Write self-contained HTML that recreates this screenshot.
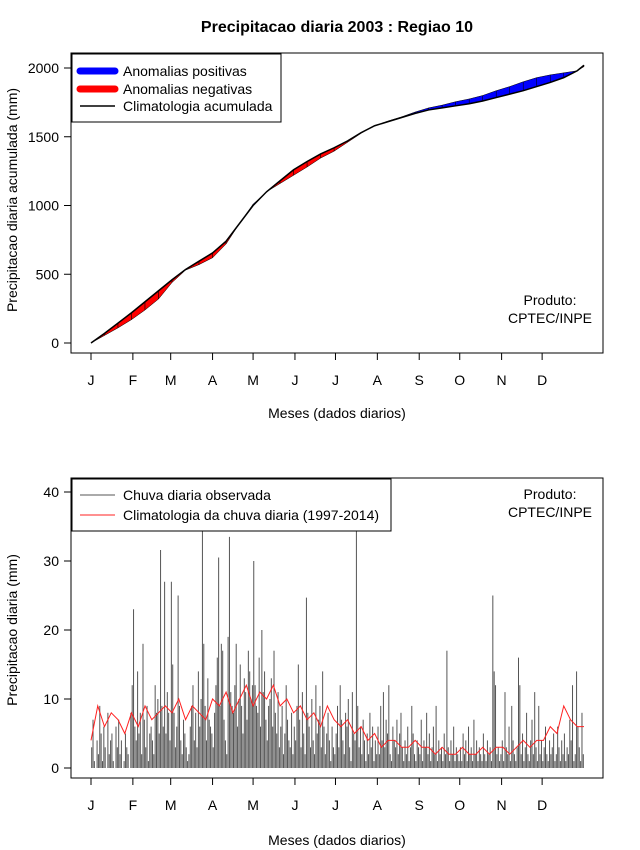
<!DOCTYPE html>
<html><head><meta charset="utf-8"><style>
html,body{margin:0;padding:0;background:#fff}
svg{display:block;font-family:"Liberation Sans",Arial,sans-serif}
</style></head><body>
<svg id="c" width="640" height="850" xmlns="http://www.w3.org/2000/svg">
<text x="337" y="32" text-anchor="middle" font-size="16" font-weight="bold">Precipitacao diaria 2003 : Regiao 10</text>
<g id="topPanel"></g>
<g id="botPanel"></g>
</svg>
<script>
// ---- Data ----
const months = ["J","F","M","A","M","J","J","A","S","O","N","D"];
const monthStartDays = [0,31,59,90,120,151,181,212,243,273,304,334];
const cumDays = [0,10,20,30,40,50,60,70,80,90,100,110,120,130,140,150,160,170,180,190,200,210,220,230,240,250,260,270,280,290,300,310,320,330,340,350,360,365];
const cumClim = [0,70,145,220,300,380,460,535,595,655,740,870,1000,1100,1180,1260,1320,1375,1420,1470,1530,1580,1610,1640,1670,1695,1710,1725,1740,1760,1785,1810,1835,1865,1895,1930,1980,2020];
const cumObs = [0,55,110,170,240,320,440,530,570,620,720,870,1010,1100,1160,1220,1280,1345,1395,1460,1525,1580,1615,1645,1680,1710,1730,1755,1775,1800,1835,1865,1900,1930,1950,1965,1980,2010];
const topTicks = [0,500,1000,1500,2000];
const rain = [
3,7,1,0,4,2,9,5,1,6,3,0,8,2,4,5,1,0,6,3,7,2,4,0,1,5,3,2,0,8,12,
23,6,4,14,5,8,2,18,7,3,9,1,5,6,4,2,12,8,10,5,31.6,9,6,27,5,11,8,4,
27,15,8,3,6,25,9,4,2,7,5,3,1,2,6,9,12,4,8,3,14,6,10,35,18,9,4,13,7,6,5,
3,8,12,16,30.5,9,18,17,7,4,2,19,33.5,11,9,8,12,18,6,10,15,9,5,13,11,7,17,14,10,12,
30,12,9,8,16,6,20,11,14,7,4,9,10,13,6,17,8,5,11,3,6,9,2,5,12,7,4,3,8,2,6,
4,9,15,7,3,11,5,2,24.7,8,6,3,10,4,2,12,5,7,9,3,14,6,2,5,8,4,1,6,3,2,
5,9,3,12,7,4,2,8,6,10,3,1,11,5,4,38,9,3,6,2,7,4,1,5,2,8,3,6,1,4,2,
6,2,9,4,11,3,7,5,12,2,1,6,4,3,7,2,5,8,3,1,4,2,6,1,3,9,5,2,1,4,3,
2,7,1,4,3,8,2,5,1,3,6,2,9,1,4,2,3,1,5,2,17,3,1,4,2,6,1,3,2,1,
3,1,5,2,4,1,6,2,3,1,7,2,4,1,3,2,1,5,2,1,4,2,3,1,25,14,12,2,3,1,2,
4,1,11,3,2,6,1,9,4,2,1,3,16,12,2,5,1,3,8,2,1,4,7,2,11,3,1,9,2,4,
1,3,6,2,1,4,2,3,5,1,2,6,3,1,4,2,5,1,3,2,7,4,12,1,2,14,6,3,1,8,2];
const climDaily = [4,9,6,8,7,5,8,6,9,7,8,9,8,10,7,9,8,7,10,9,11,8,10,12,9,11,10,12,9,10,8,9,7,8,6,9,7,6,7,5,6,4,5,3,4,4,3,3,4,3,3,2,3,2,2,3,2,2,3,2,3,3,2,3,4,3,4,4,6,5,9,7,6,6];
const botTicks = [0,10,20,30,40];

// ---- helpers ----
const NS="http://www.w3.org/2000/svg";
function mk(parent,tag,attrs,text){const e=document.createElementNS(NS,tag);for(const k in attrs)e.setAttribute(k,attrs[k]);if(text!==undefined)e.textContent=text;parent.appendChild(e);return e;}
const xd = d => 91 + d*(584-91)/365;
const yTop = v => 343 - v*(343-68)/2000;
const yBot = v => 768 - v*(768-492)/40;

function axes(g,box,ticks,yf,ytitle,ycenter,xlabY){
  let r=mk(g,'rect',{x:box[0],y:box[1],width:box[2]-box[0],height:box[3]-box[1],fill:'none',stroke:'#000','stroke-width':1});
  
  
  ticks.forEach(t=>{
    const y=yf(t);
    let l=mk(g,'line',{x1:box[0],x2:box[0]-7,y1:y,y2:y,stroke:'#000'});
    
    
    let tx=mk(g,'text',{x:box[0]-12,y:y+5,'text-anchor':'end','font-size':14},String(t));
    
    
  });
  months.forEach((m,i)=>{
    const x=xd(monthStartDays[i]);
    let l=mk(g,'line',{x1:x,x2:x,y1:box[3],y2:box[3]+7,stroke:'#000'});
    
    
    let tx=mk(g,'text',{x:x,y:box[3]+32,'text-anchor':'middle','font-size':14},m);
    
    
  });
  let xt=mk(g,'text',{x:337,y:xlabY,'text-anchor':'middle','font-size':14},'Meses (dados diarios)');
  
  
  let yt=mk(g,'text',{x:0,y:0,'text-anchor':'middle','font-size':14,transform:`translate(17,${ycenter}) rotate(-90)`},ytitle);
  
  
}

// ---- top panel ----
const topG=document.getElementById('topPanel');
for(let i=0;i<cumDays.length-1;i++){
  const a0=cumObs[i]-cumClim[i], a1=cumObs[i+1]-cumClim[i+1];
  const col=(a0+a1)>=0?'#0000ff':'#ff0000';
  const pts=[[xd(cumDays[i]),yTop(cumClim[i])],[xd(cumDays[i+1]),yTop(cumClim[i+1])],[xd(cumDays[i+1]),yTop(cumObs[i+1])],[xd(cumDays[i]),yTop(cumObs[i])]];
  const p=mk(topG,'polygon',{points:pts.map(q=>q.join(',')).join(' '),fill:col,stroke:'#000','stroke-width':0.5});
  
  
}
const cl=mk(topG,'polyline',{points:cumDays.map((d,i)=>xd(d)+','+yTop(cumClim[i])).join(' '),fill:'none',stroke:'#000','stroke-width':1.5});


axes(topG,[71,53,603,353],topTicks,yTop,'Precipitacao diaria acumulada (mm)',200,418);
let lg=mk(topG,'g',{});


mk(lg,'rect',{x:72,y:54,width:209,height:68,fill:'#fff',stroke:'#000'});
[['#0000ff',7,'Anomalias positivas',71],['#ff0000',7,'Anomalias negativas',89],['#000',1.5,'Climatologia acumulada',106]].forEach(e=>{
  let g=mk(lg,'g',{});
  
  
  mk(g,'line',{x1:80,x2:115,y1:e[3],y2:e[3],stroke:e[0],'stroke-width':e[1],'stroke-linecap':e[1]>2?'round':'butt'});
  mk(g,'text',{x:123,y:e[3]+5,'font-size':14},e[2]);
});
let pr=mk(topG,'text',{x:550,y:305,'text-anchor':'middle','font-size':14},'Produto:');


let pr2=mk(topG,'text',{x:550,y:323,'text-anchor':'middle','font-size':14},'CPTEC/INPE');



// ---- bottom panel ----
const botG=document.getElementById('botPanel');
rain.forEach((v,d)=>{
  const x=xd(d+0.5);
  const l=mk(botG,'line',{x1:x,x2:x,y1:yBot(0),y2:yBot(Math.min(v,41.2)),stroke:'#555','stroke-width':1});
  
  
});
const step=365/(climDaily.length-1);
const rl=mk(botG,'polyline',{points:climDaily.map((v,i)=>xd(i*step)+','+yBot(v)).join(' '),fill:'none',stroke:'#ff2020','stroke-width':1});


axes(botG,[71,478,603,778],botTicks,yBot,'Precipitacao diaria (mm)',630,845);
let lg2=mk(botG,'g',{});


mk(lg2,'rect',{x:72,y:479,width:319,height:52,fill:'#fff',stroke:'#000'});
[['#555','Chuva diaria observada',495],['#ff2020','Climatologia da chuva diaria (1997-2014)',515]].forEach(e=>{
  let g=mk(lg2,'g',{});
  
  
  mk(g,'line',{x1:80,x2:115,y1:e[2],y2:e[2],stroke:e[0],'stroke-width':1});
  mk(g,'text',{x:123,y:e[2]+5,'font-size':14},e[1]);
});
let pb=mk(botG,'text',{x:550,y:499,'text-anchor':'middle','font-size':14},'Produto:');


let pb2=mk(botG,'text',{x:550,y:517,'text-anchor':'middle','font-size':14},'CPTEC/INPE');


</script>
</body></html>
